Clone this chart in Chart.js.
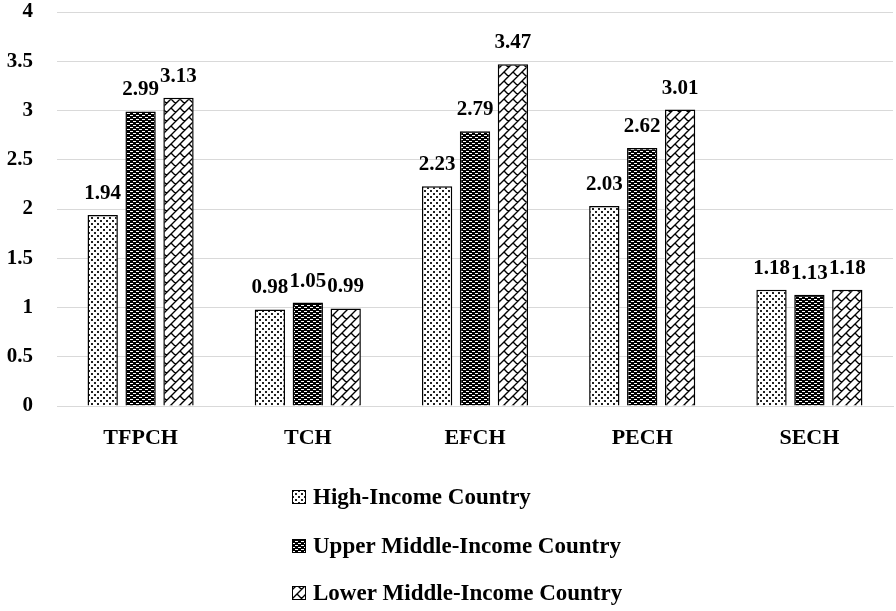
<!DOCTYPE html>
<html>
<head>
<meta charset="utf-8">
<script src="https://cdn.jsdelivr.net/npm/chart.js@4.4.0/dist/chart.umd.min.js"></script>
<style>
  html, body { margin: 0; padding: 0; background: #fff; }
  #wrap { width: 896px; height: 611px; position: relative; }
</style>
</head>
<body>
<div id="wrap"><canvas id="c" width="896" height="611"></canvas></div>
<script>
const categories = ["TFPCH", "TCH", "EFCH", "PECH", "SECH"];
const seriesNames = ["High-Income Country", "Upper Middle-Income Country", "Lower Middle-Income Country"];
const highIncome = [1.94, 0.98, 2.23, 2.03, 1.18];
const upperMiddle = [2.99, 1.05, 2.79, 2.62, 1.13];
const lowerMiddle = [3.13, 0.99, 3.47, 3.01, 1.18];
const yTicks = [0, 0.5, 1, 1.5, 2, 2.5, 3, 3.5, 4];

const FONT = "'Liberation Serif', 'Times New Roman', serif";

function dotPattern() {
  const c = document.createElement('canvas'); c.width = 6; c.height = 6;
  const x = c.getContext('2d');
  x.fillStyle = '#fff'; x.fillRect(0, 0, 6, 6);
  x.fillStyle = '#222';
  x.fillRect(1, 1, 2, 2); x.fillRect(4, 4, 2, 2);
  return x.createPattern(c, 'repeat');
}
function darkPattern() {
  const c = document.createElement('canvas'); c.width = 6; c.height = 4;
  const x = c.getContext('2d');
  x.fillStyle = '#000'; x.fillRect(0, 0, 6, 4);
  x.fillStyle = '#fff';
  x.fillRect(1, 1, 3, 1); x.fillRect(4, 3, 2, 1); x.fillRect(0, 3, 1, 1);
  return x.createPattern(c, 'repeat');
}
function brickPattern() {
  const N = 18;
  const c = document.createElement('canvas'); c.width = N; c.height = N;
  const x = c.getContext('2d');
  x.fillStyle = '#fff'; x.fillRect(0, 0, N, N);
  x.strokeStyle = '#000'; x.lineWidth = 1.4;
  x.beginPath();
  for (let k = -6; k <= 8; k++) {
    const s = k * N / 2;
    x.moveTo(-2 * N, s + 2 * N); x.lineTo(s + 2 * N, -2 * N);
  }
  for (let k = -6; k <= 8; k++) {
    const s0 = k * N / 2, s1 = (k + 1) * N / 2;
    const par = ((k % 2) + 2) % 2;
    for (let m = -4; m <= 4; m++) {
      const d = m * N + par * N / 2;
      x.moveTo((s0 + d) / 2, (s0 - d) / 2);
      x.lineTo((s1 + d) / 2, (s1 - d) / 2);
    }
  }
  x.stroke();
  return x.createPattern(c, 'repeat');
}

const patterns = [dotPattern(), darkPattern(), brickPattern()];
const seriesData = [highIncome, upperMiddle, lowerMiddle];

const valueLabels = {
  id: 'valueLabels',
  afterDatasetsDraw(chart) {
    const ctx = chart.ctx;
    ctx.save();
    ctx.font = "bold 21px " + FONT;
    ctx.fillStyle = '#000';
    ctx.textAlign = 'center';
    ctx.textBaseline = 'alphabetic';
    chart.data.datasets.forEach((ds, i) => {
      const meta = chart.getDatasetMeta(i);
      meta.data.forEach((el, j) => {
        ctx.fillText(ds.data[j].toFixed(2), el.x, el.y - 16);
      });
    });
    ctx.restore();
  }
};

const customLegend = {
  id: 'customLegend',
  afterDraw(chart) {
    const ctx = chart.ctx;
    ctx.save();
    const ys = [497, 546, 593];
    ctx.font = "bold 23px " + FONT;
    ctx.textBaseline = 'middle';
    ctx.textAlign = 'left';
    seriesNames.forEach((name, i) => {
      const bx = 292, by = ys[i] - 7, bs = 14;
      ctx.fillStyle = patterns[i];
      ctx.fillRect(bx, by, bs, bs);
      ctx.strokeStyle = '#000'; ctx.lineWidth = 1;
      ctx.strokeRect(bx + 0.5, by + 0.5, bs - 1, bs - 1);
      ctx.fillStyle = '#000';
      ctx.fillText(name, 313, ys[i] + 1);
    });
    ctx.restore();
  }
};

const bgPlugin = {
  id: 'bg',
  beforeDraw(chart) {
    const ctx = chart.ctx;
    ctx.save(); ctx.fillStyle = '#fff';
    ctx.fillRect(0, 0, chart.width, chart.height); ctx.restore();
  }
};

new Chart(document.getElementById('c'), {
  type: 'bar',
  data: {
    labels: categories,
    datasets: seriesNames.map((n, i) => ({
      label: n,
      data: seriesData[i],
      backgroundColor: patterns[i],
      borderColor: '#000',
      borderWidth: 1.5,
      categoryPercentage: 0.68,
      barPercentage: 0.8
    }))
  },
  options: {
    responsive: false,
    animation: false,
    devicePixelRatio: 1,
    layout: { padding: { top: 0, right: 3, left: 0, bottom: 0 } },
    plugins: { legend: { display: false }, tooltip: { enabled: false } },
    scales: {
      x: {
        grid: { display: false, drawTicks: false },
        border: { display: true, color: '#d9d9d9', width: 1 },
        ticks: { color: '#000', font: { family: FONT, size: 22, weight: 'bold' }, padding: 19 },
        afterFit(s) { s.height = 205; s.paddingTop = 0; s.paddingBottom = 0; }
      },
      y: {
        min: 0, max: 4,
        afterBuildTicks(s) { s.ticks = yTicks.map(v => ({ value: v })); },
        grid: { color: '#d9d9d9', drawTicks: false, lineWidth: 1 },
        border: { display: false },
        ticks: {
          color: '#000', font: { family: FONT, size: 21, weight: 'bold' }, padding: 24,
          callback: (v) => String(v)
        },
        afterFit(s) { s.width = 57; s.paddingTop = 12; s.paddingBottom = 0; }
      }
    }
  },
  plugins: [bgPlugin, valueLabels, customLegend]
});
</script>
</body>
</html>
